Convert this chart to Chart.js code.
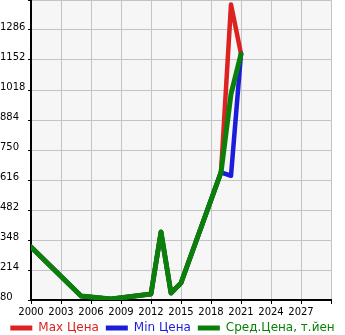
<!DOCTYPE html>
<html>
<head>
<meta charset="utf-8">
<script src="https://cdn.jsdelivr.net/npm/chart.js@4.4.1/dist/chart.umd.min.js"></script>
<style>
    html, body { margin: 0; padding: 0; background: #fff; }
    #wrap { width: 345px; height: 335px; position: relative; }
</style>
</head>
<body>
<div id="wrap"><canvas id="chart"></canvas></div>
<script>
/* global Chart */
const years = [2000, 2005, 2008, 2012, 2013, 2014, 2015, 2019, 2020, 2021];
const maxPrice = [317, 98, 84, 107, 384, 111, 156, 650, 1400, 1180];
const minPrice = [317, 98, 84, 107, 384, 111, 156, 650, 635, 1180];
const avgPrice = [317, 98, 84, 107, 384, 111, 156, 650, 1000, 1178];

const seriesNames = ['Max Цена', 'Min Цена', 'Сред.Цена, т.йен'];
const seriesColors = ['#dd2222', '#1c1cdc', '#0a800a'];

const yMin = 80, yMax = 1420, yStep = 134;
const xMin = 2000, xMax = 2030, xStep = 3;

function points(values) {
    return years.map((y, i) => ({ x: y, y: values[i] }));
}

const plotBg = {
    id: 'plotBg',
    beforeDraw(chart) {
        const a = chart.chartArea;
        const ctx = chart.ctx;
        ctx.save();
        ctx.fillStyle = '#f6f6f6';
        ctx.fillRect(a.left, a.top, a.right - a.left, a.bottom - a.top);
        ctx.restore();
    }
};

const tickFont = { family: 'DejaVu Sans', size: 10 };

new Chart(document.getElementById('chart').getContext('2d'), {
    type: 'line',
    data: {
        datasets: [maxPrice, minPrice, avgPrice].map((vals, i) => ({
            label: seriesNames[i],
            data: points(vals),
            borderColor: seriesColors[i],
            backgroundColor: seriesColors[i],
            borderWidth: i === 2 ? 5 : 4.5,
            pointRadius: 0,
            tension: 0,
            borderJoinStyle: 'round',
            borderCapStyle: 'round',
            order: 3 - i,
        })),
    },
    options: {
        responsive: true,
        maintainAspectRatio: false,
        animation: false,
        layout: { padding: { left: 0, right: 0, top: 0, bottom: -9 } },
        plugins: {
            legend: {
                position: 'bottom',
                labels: {
                    boxWidth: 22,
                    boxHeight: 5,
                    padding: 7,
                    font: { family: 'DejaVu Sans', size: 12 },
                    generateLabels(chart) {
                        return chart.data.datasets.map((ds, i) => ({
                            text: ds.label,
                            fillStyle: ds.borderColor,
                            strokeStyle: ds.borderColor,
                            lineWidth: 0,
                            fontColor: ds.borderColor,
                            hidden: false,
                            datasetIndex: i,
                        }));
                    },
                },
            },
            tooltip: { enabled: false },
        },
        scales: {
            x: {
                type: 'linear',
                min: xMin,
                max: xMax,
                ticks: {
                    stepSize: xStep,
                    color: '#000',
                    font: tickFont,
                    padding: 2,
                    maxRotation: 0,
                    autoSkip: false,
                    callback: (v) => (v === xMax ? '' : String(v)),
                },
                grid: { color: '#c4c4c4', tickColor: '#000', tickLength: 4, lineWidth: 1 },
                border: { color: '#000', width: 2 },
                afterFit: (s) => { s.height = 15; s.paddingLeft = 0; s.paddingRight = 0; },
            },
            y: {
                min: yMin,
                max: yMax,
                ticks: {
                    stepSize: yStep,
                    color: '#000',
                    font: tickFont,
                    crossAlign: 'far',
                    labelOffset: -3,
                    padding: 2,
                    callback: (v) => (v === yMax ? '' : String(v)),
                },
                grid: { color: '#c4c4c4', tickColor: '#000', tickLength: 3, lineWidth: 1 },
                border: { color: '#000', width: 2 },
                afterFit: (s) => { s.width = 31; s.paddingTop = 0; s.paddingBottom = 0; },
            },
            yRight: {
                position: 'right',
                grid: { display: false },
                ticks: { display: false },
                border: { display: false },
                afterFit: (s) => { s.width = 14; s.paddingTop = 0; s.paddingBottom = 0; },
            },
        },
    },
    plugins: [plotBg],
});
</script>
</body>
</html>
